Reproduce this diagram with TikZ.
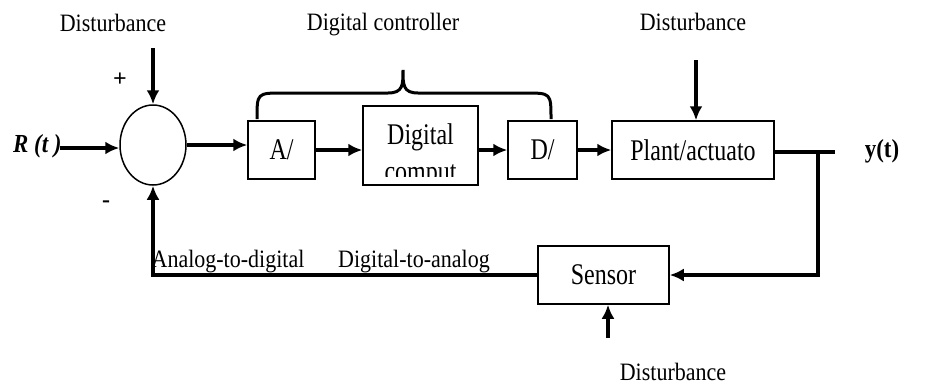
\documentclass[tikz,border=0pt]{standalone}
\usepackage{graphicx}
\usepackage{fontspec}
\setmainfont{Liberation Serif}
\usetikzlibrary{arrows.meta, shapes.geometric, positioning}

\newcommand\boxtext[1]{\scalebox{0.8}[1]{#1}}
\newcommand\lbltext[1]{\scalebox{0.88}[1]{#1}}

\begin{document}
\begin{tikzpicture}[x=1pt, y=-1pt]
        \tikzset{block/.style={draw,
                align=center,
                line width = 1.5,
                minimum width = 67,
                minimum height = 58,
                inner sep = 0pt,
                font=\fontsize{30}{34}\selectfont
        }}
        \tikzset{sumcircle/.style={draw,
                ellipse,
                line width = 1.5,
                minimum width = 66,
                minimum height = 80,
                inner sep = 0pt
        }}
        \tikzset{plain/.style={inner sep=0pt, font=\fontsize{30}{34}\selectfont}}
        \tikzset{caption/.style={anchor=base, inner sep=0pt, font=\fontsize{25}{29}\selectfont}}
        \tikzset{connector/.style={line width=4, -{Latex[length=14pt,width=13pt]}}}
        \tikzset{wire/.style={line width=4}}

        \useasboundingbox (0,0) rectangle (934,386);

        % labels
        \node[caption] (dist1) at (113,31) {\lbltext{Disturbance}};
        \node[caption] (ctrl) at (383,30) {\lbltext{Digital controller}};
        \node[caption] (dist2) at (693,30) {\lbltext{Disturbance}};
        \node[caption] (dist3) at (673,380) {\lbltext{Disturbance}};
        \node[caption] (adlabel) at (228,267) {\lbltext{Analog-to-digital}};
        \node[caption] (dalabel) at (414,267) {\lbltext{Digital-to-analog}};
        \node[plain, font=\fontsize{24}{28}\selectfont\bfseries] (plus) at (120,80) {+};
        \node[plain, font=\fontsize{24}{28}\selectfont\bfseries] (minus) at (106,204) {-};
        \node[plain, anchor=base west, font=\fontsize{26}{30}\selectfont\bfseries\itshape] (rt) at (13,152) {\lbltext{R (t )}};
        \node[plain, anchor=base, font=\fontsize{26}{30}\selectfont\bfseries] (yt) at (882,157) {\lbltext{y(t)}};

        % blocks
        \node[sumcircle] (sum) at (153,145) {};
        \node[block] (ad) at (281.5,150) {\boxtext{A/}};
        \node[block, minimum width=115, minimum height=79] (comp) at (420.5,145.5) {};
        \node[plain] (comptop) at (420.5,137) {\boxtext{Digital}};
        \begin{scope}
                \clip (comp.north west) rectangle ([yshift=9pt]comp.south east);
                \node[plain, anchor=base] (compbot) at ([yshift=4pt]comp.south) {\boxtext{comput}};
        \end{scope}
        \node[block, minimum width=69] (da) at (542.5,150) {\boxtext{D/}};
        \node[block, minimum width=162] (plant) at (693,150) {\boxtext{Plant/actuato}};
        \node[block, minimum width=131] (sensor) at (603.5,275) {\boxtext{Sensor}};

        \coordinate (rin) at (60,148);
        \coordinate (d1) at (153,48);
        \coordinate (d2) at (696,60);
        \coordinate (d3) at (608,338);
        \coordinate (yend) at (835,152);
        \coordinate (branch) at (818,152);

        % brace over the controller
        \draw[line width=3] (257,119) .. controls (257,93) .. (283,93) -- (388,93)
                .. controls (403,93) and (403,85) .. (403,70)
                .. controls (403,85) and (403,93) .. (418,93) -- (525,93)
                .. controls (551,93) .. (551,119);

        \draw[connector] (rin) -- (rin -| sum.west);
        \draw[connector] (d1) -- (sum.north);
        \draw[connector] (sum.east) -- (sum.east -| ad.west);
        \draw[connector] (ad.east) -- (ad.east -| comp.west);
        \draw[connector] (da.west -| comp.east) -- (da.west);
        \draw[connector] (da.east) -- (plant.west);
        \draw[connector] (d2) -- (d2 |- plant.north);
        \draw[wire] (plant.east |- yend) -- (yend);
        \draw[connector] (branch) |- (sensor.east);
        \draw[connector] (d3) -- (d3 |- sensor.south);
        \draw[connector] (sensor.west) -| (sum.south);
\end{tikzpicture}
\end{document}
